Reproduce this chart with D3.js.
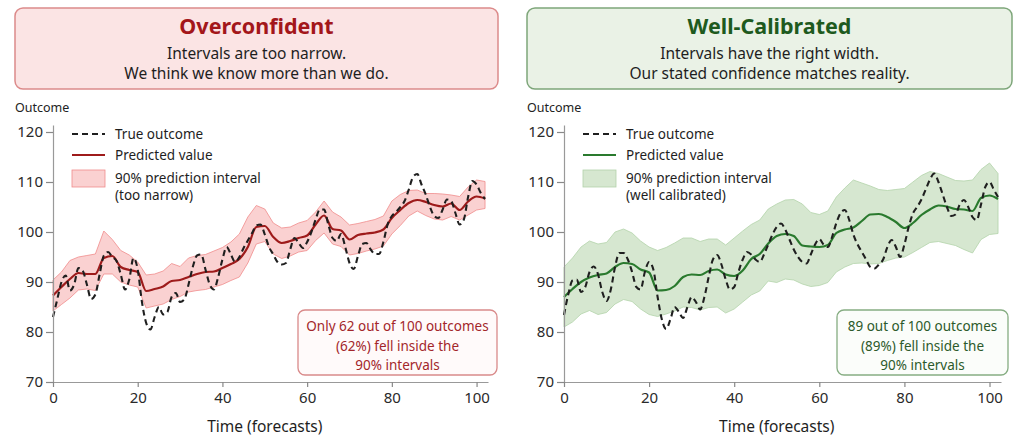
<!DOCTYPE html>
<html>
<head>
<meta charset="utf-8">
<script src="https://cdn.jsdelivr.net/npm/d3@7"></script>
<style>
  body { margin: 0; background: #fff; }
  svg { font-family: 'Noto Sans', 'Open Sans', sans-serif; }
</style>
</head>
<body>
<svg id="chart" width="1024" height="445"></svg>
<script>
// time index of each forecast
const time = d3.range(0, 103)
const timeCoarse = d3.range(0, 103, 2)
const xTicks = [0, 20, 40, 60, 80, 100]
const yTicks = [70, 80, 90, 100, 110, 120]

// true outcome
const trueLeft = [
  83.0, 86.5, 90.0, 91.3, 88.3, 89.5, 92.8, 92.3, 89.5, 86.6,
  87.5, 91.5, 95.3, 96.0, 95.0, 94.2, 91.5, 88.5, 90.5, 94.8,
  92.5, 86.0, 81.8, 80.5, 83.0, 85.0, 83.5, 84.0, 87.0, 87.8,
  86.0, 86.5, 89.5, 93.0, 95.3, 95.5, 92.5, 89.5, 88.5, 91.0,
  94.5, 97.0, 95.5, 94.0, 95.0, 96.8, 98.3, 99.8, 101.3, 101.5,
  99.5, 97.0, 95.5, 94.0, 93.5, 93.8, 96.5, 98.8, 97.8, 96.8,
  98.0, 100.0, 102.5, 104.5, 104.5, 101.5, 98.8, 98.2, 99.6, 97.0,
  93.8, 92.6, 95.2, 97.6, 97.8, 96.5, 95.6, 95.6, 98.0, 101.5,
  103.2, 104.0, 105.0, 106.2, 108.5, 111.0, 111.6, 109.5, 107.5, 105.0,
  103.2, 102.8, 104.5, 106.5, 106.2, 103.8, 101.5, 102.5, 107.0, 110.2,
  109.5, 107.8, 106.6
]

// true outcome
const trueRight = [
  83.4, 87.5, 90.3, 90.5, 88.0, 89.0, 92.0, 93.1, 91.5, 88.0,
  86.2, 88.5, 93.0, 95.8, 95.8, 94.5, 92.0, 89.0, 88.5, 92.0,
  94.0, 92.5, 87.0, 82.5, 80.6, 82.5, 85.0, 84.0, 82.8, 85.0,
  87.0, 86.0, 84.5, 87.0, 91.0, 94.5, 95.4, 93.5, 90.5, 88.5,
  89.0, 92.0, 94.5, 96.0, 95.5, 94.5, 94.0, 95.5, 97.5, 99.5,
  101.0, 101.7, 100.5, 98.5, 96.5, 95.0, 94.0, 93.7, 95.5, 97.5,
  98.6, 97.5, 97.0, 99.0, 101.8, 103.8, 104.4, 102.5, 99.5, 97.5,
  96.0, 94.5, 93.0, 92.7, 93.5, 94.5, 97.0, 98.4, 97.0, 95.0,
  97.5, 101.0, 103.7, 105.0, 106.5, 108.5, 110.5, 111.7, 110.0, 107.5,
  105.0, 103.2, 103.5, 105.5, 106.4, 105.0, 103.0, 102.4, 105.5, 109.0,
  110.0, 108.5, 107.0
]

// overconfident model, every second step
const predLeft = [
  87.3, 89.0, 90.6, 91.8, 91.6, 91.6, 94.8, 95.2, 93.0, 92.4,
  92.0, 88.2, 88.6, 89.1, 90.2, 90.4, 91.0, 91.6, 92.0, 92.1,
  92.8, 93.6, 94.6, 97.0, 101.0, 101.2, 99.0, 97.8, 98.2, 98.8,
  99.3, 101.5, 103.3, 100.6, 100.3, 98.5, 99.4, 99.7, 99.9, 100.5,
  102.8, 104.4, 105.8, 106.4, 106.0, 105.4, 105.1, 105.7, 104.4, 106.1,
  107.1, 106.7
]
const upperLeft = [
  90.4, 92.0, 94.3, 95.0, 95.3, 95.6, 100.2, 98.5, 96.3, 95.4,
  94.0, 91.4, 91.6, 92.2, 93.7, 93.1, 94.8, 95.3, 95.5, 96.2,
  96.9, 98.0, 99.6, 103.0, 105.3, 104.6, 101.8, 100.8, 101.0, 101.8,
  102.3, 104.0, 106.2, 104.0, 103.0, 101.4, 101.7, 102.1, 102.5, 103.2,
  106.2, 107.5, 108.3, 108.4, 107.7, 107.7, 107.6, 107.4, 107.1, 109.0,
  110.4, 110.1
]
const lowerLeft = [
  84.2, 85.5, 86.8, 88.4, 88.6, 88.3, 91.6, 91.6, 90.0, 89.4,
  89.0, 84.8, 85.2, 85.6, 86.5, 87.1, 88.0, 88.3, 88.5, 89.0,
  89.5, 90.3, 91.0, 93.8, 97.6, 98.1, 95.6, 94.7, 95.2, 96.0,
  96.3, 98.3, 99.8, 97.6, 97.1, 95.4, 95.7, 96.2, 96.6, 97.2,
  99.6, 101.3, 103.2, 104.2, 103.3, 102.6, 102.4, 103.1, 102.4, 103.4,
  104.4, 104.7
]

// well-calibrated model, every second step
const predRight = [
  87.0, 88.6, 90.0, 90.9, 91.4, 91.7, 93.0, 93.8, 93.6, 92.5,
  91.9, 88.3, 88.4, 89.2, 91.0, 91.5, 91.4, 92.2, 92.5, 91.5,
  91.2, 92.3, 94.6, 95.6, 97.7, 99.2, 99.6, 99.2, 97.3, 97.1,
  97.0, 97.4, 99.8, 100.5, 100.9, 102.2, 103.5, 103.6, 103.0, 102.0,
  100.8, 101.8, 103.4, 104.5, 105.3, 105.1, 104.6, 104.5, 104.2, 106.8,
  107.3, 106.6
]
const upperRight = [
  93.0, 94.8, 97.0, 98.2, 97.6, 97.9, 100.0, 100.6, 99.8, 98.2,
  97.0, 96.3, 96.9, 97.8, 98.8, 98.8, 98.1, 98.6, 98.6, 97.4,
  98.8, 100.2, 101.5, 102.4, 104.6, 105.6, 106.4, 106.5, 105.6, 103.9,
  103.5, 104.2, 107.0, 108.8, 110.4, 109.8, 109.2, 108.5, 108.3, 108.5,
  108.7, 110.0, 111.3, 112.1, 111.7, 111.0, 110.3, 110.2, 110.4, 112.5,
  113.8, 111.7
]
const lowerRight = [
  81.0, 82.0, 83.6, 84.3, 83.5, 83.9, 85.6, 86.5, 86.1, 84.6,
  83.5, 83.1, 83.6, 84.2, 85.0, 84.9, 84.4, 84.9, 85.0, 83.8,
  84.6, 86.0, 87.4, 88.2, 90.2, 89.9, 90.6, 90.4, 89.6, 89.1,
  89.3, 89.9, 92.0, 93.0, 93.7, 93.8, 93.6, 93.7, 94.3, 94.8,
  95.0, 95.9, 96.9, 97.9, 98.1, 97.7, 97.3, 96.5, 95.8, 98.5,
  99.5, 99.7
]

const svg = d3.select('#chart')

const panels = [
  {
    boxX: 15, boxW: 483, plotX: 53, plotW: 435,
    title: 'Overconfident',
    subtitle: ['Intervals are too narrow.', 'We think we know more than we do.'],
    headFill: '#fbe4e4', headStroke: '#dc8a8a', titleColor: '#a3161a',
    lineColor: '#9e1b1b', bandFill: '#f9c9c9', bandStroke: '#f08c8c', bandOpacity: 0.85,
    legendBand: ['90% prediction interval', '(too narrow)'],
    truth: trueLeft, pred: predLeft, upper: upperLeft, lower: lowerLeft,
    noteX: 298, noteW: 199, noteStroke: '#d98a8a', noteFill: '#fffafa', noteColor: '#a3262a',
    note: ['Only 62 out of 100 outcomes', '(62%) fell inside the', '90% intervals']
  },
  {
    boxX: 527, boxW: 485, plotX: 564, plotW: 437,
    title: 'Well-Calibrated',
    subtitle: ['Intervals have the right width.', 'Our stated confidence matches reality.'],
    headFill: '#eaf2e6', headStroke: '#7ea67a', titleColor: '#1e5a1e',
    lineColor: '#2a7a2e', bandFill: '#cfe3c8', bandStroke: '#b3d3aa', bandOpacity: 0.85,
    legendBand: ['90% prediction interval', '(well calibrated)'],
    truth: trueRight, pred: predRight, upper: upperRight, lower: lowerRight,
    noteX: 837, noteW: 171, noteStroke: '#86ad82', noteFill: '#fbfdfa', noteColor: '#2d5a2b',
    note: ['89 out of 100 outcomes', '(89%) fell inside the', '90% intervals']
  }
]

panels.forEach(drawPanel)

function drawPanel(p) {
  const g = svg.append('g')

  // header box
  g.append('rect')
    .attr('x', p.boxX)
    .attr('y', 8)
    .attr('width', p.boxW)
    .attr('height', 81)
    .attr('rx', 8)
    .attr('fill', p.headFill)
    .attr('stroke', p.headStroke)
    .attr('stroke-width', 1.5)

  const cx = p.boxX + p.boxW / 2
  g.append('text')
    .attr('x', cx)
    .attr('y', 34)
    .attr('text-anchor', 'middle')
    .attr('font-size', 21.5)
    .attr('font-weight', 'bold')
    .attr('fill', p.titleColor)
    .text(p.title)

  g.selectAll('.sub')
    .data(p.subtitle)
    .enter()
    .append('text')
    .attr('class', 'sub')
    .attr('x', cx)
    .attr('y', (d, i) => 59 + i * 20)
    .attr('text-anchor', 'middle')
    .attr('font-size', 15.5)
    .attr('fill', '#1e1e1e')
    .text(d => d)

  g.append('text')
    .attr('x', p.boxX)
    .attr('y', 112)
    .attr('font-size', 12.5)
    .attr('fill', '#222')
    .text('Outcome')

  const x = d3.scaleLinear().domain([0, 102.7]).range([p.plotX, p.plotX + p.plotW])
  const y = d3.scaleLinear().domain([70, 121.4]).range([382, 125])

  // band, predicted, truth
  const bandData = timeCoarse.map((t, i) => ({ t: t, lo: p.lower[i], hi: p.upper[i], v: p.pred[i] }))
  const area = d3.area()
    .x(d => x(d.t))
    .y0(d => y(d.lo))
    .y1(d => y(d.hi))
  g.append('path')
    .datum(bandData)
    .attr('d', area)
    .attr('fill', p.bandFill)
    .attr('fill-opacity', p.bandOpacity)
    .attr('stroke', p.bandStroke)
    .attr('stroke-width', 0.8)

  const predLine = d3.line()
    .x(d => x(d.t))
    .y(d => y(d.v))
    .curve(d3.curveMonotoneX)
  g.append('path')
    .datum(bandData)
    .attr('d', predLine)
    .attr('fill', 'none')
    .attr('stroke', p.lineColor)
    .attr('stroke-width', 2.2)

  const truthLine = d3.line()
    .x((d, i) => x(time[i]))
    .y(d => y(d))
    .curve(d3.curveMonotoneX)
  g.append('path')
    .datum(p.truth)
    .attr('d', truthLine)
    .attr('fill', 'none')
    .attr('stroke', '#1f1f1f')
    .attr('stroke-width', 2.1)
    .attr('stroke-dasharray', '6,4')

  // axes
  const yAxis = d3.axisLeft(y).tickValues(yTicks).tickSize(7).tickPadding(3).tickSizeOuter(0)
  g.append('g')
    .attr('class', 'axis y-axis')
    .attr('transform', 'translate(' + p.plotX + ',0)')
    .call(yAxis)

  const xAxis = d3.axisBottom(x).tickValues(xTicks).tickSize(5).tickPadding(5).tickSizeOuter(0)
  g.append('g')
    .attr('class', 'axis x-axis')
    .attr('transform', 'translate(0,382)')
    .call(xAxis)

  g.selectAll('.axis path').attr('stroke', '#999').attr('stroke-width', 1.2)
  g.selectAll('.axis line').attr('stroke', '#888').attr('stroke-width', 1.2)
  g.selectAll('.axis text')
    .attr('font-size', 15)
    .attr('fill', '#2a2a2a')
    .attr('font-family', "'Noto Sans', 'Open Sans', sans-serif")

  g.append('text')
    .attr('x', x(50))
    .attr('y', 432)
    .attr('text-anchor', 'middle')
    .attr('font-size', 15.5)
    .attr('fill', '#1e1e1e')
    .text('Time (forecasts)')

  // legend
  const lx = p.plotX + 19
  const legend = g.append('g').attr('transform', 'translate(' + lx + ',0)')
  legend.append('line')
    .attr('x1', 0).attr('x2', 33).attr('y1', 134).attr('y2', 134)
    .attr('stroke', '#1f1f1f').attr('stroke-width', 2.1).attr('stroke-dasharray', '6,4')
  legend.append('line')
    .attr('x1', 0).attr('x2', 33).attr('y1', 155).attr('y2', 155)
    .attr('stroke', p.lineColor).attr('stroke-width', 2.2)
  legend.append('rect')
    .attr('x', 0).attr('y', 170).attr('width', 33).attr('height', 17)
    .attr('fill', p.bandFill).attr('fill-opacity', p.bandOpacity)
    .attr('stroke', p.bandStroke).attr('stroke-width', 0.8)
  const labels = ['True outcome', 'Predicted value'].concat(p.legendBand)
  legend.selectAll('.lab')
    .data(labels)
    .enter()
    .append('text')
    .attr('class', 'lab')
    .attr('x', 43)
    .attr('y', (d, i) => [139, 160, 183, 200][i])
    .attr('font-size', 13.5)
    .attr('fill', '#1e1e1e')
    .text(d => d)

  // annotation
  g.append('rect')
    .attr('x', p.noteX)
    .attr('y', 310)
    .attr('width', p.noteW)
    .attr('height', 65)
    .attr('rx', 7)
    .attr('fill', p.noteFill)
    .attr('stroke', p.noteStroke)
    .attr('stroke-width', 1.3)
  g.selectAll('.note')
    .data(p.note)
    .enter()
    .append('text')
    .attr('class', 'note')
    .attr('x', p.noteX + p.noteW / 2)
    .attr('y', (d, i) => 331 + i * 19.5)
    .attr('text-anchor', 'middle')
    .attr('font-size', 13.5)
    .attr('fill', p.noteColor)
    .text(d => d)
}
</script>
</body>
</html>
